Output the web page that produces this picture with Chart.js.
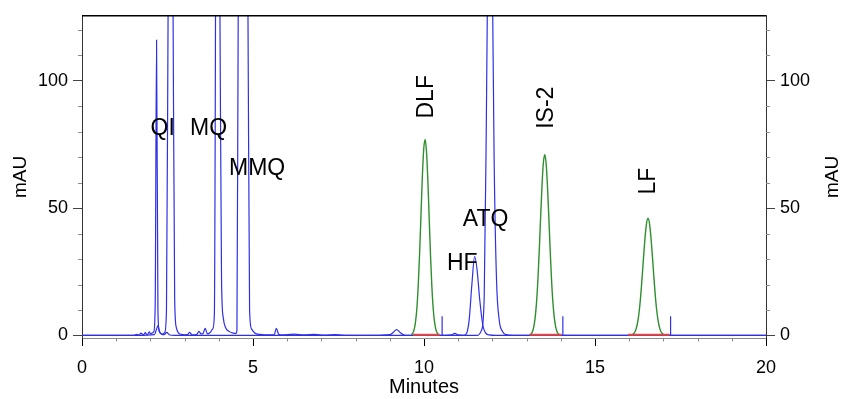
<!DOCTYPE html>
<html>
<head>
<meta charset="utf-8">
<script src="https://cdn.jsdelivr.net/npm/chart.js@4.4.1/dist/chart.umd.min.js"></script>
<style>
  body { margin: 0; background: #fff; }
  #chart { display: block; }
</style>
</head>
<body>
<canvas id="chart" width="844" height="399"></canvas>
<script>
// tick labels
const xTicks = [0, 5, 10, 15, 20];
const yTicks = [0, 50, 100];

// blue trace 1 (QI, 2.6 min peak, MQ, MMQ, small bumps, HF)
const blueTime = [
  0, 1.5, 1.6, 1.67, 1.72, 1.8, 1.85, 1.9, 1.97, 2.0, 2.06, 2.1,
  2.14, 2.18, 2.22, 2.26, 2.3, 2.36,
  2.42, 2.47, 2.52, 2.59, 2.66, 2.71, 2.76, 2.82, 2.9,
  3.0, 3.08, 3.15, 3.22, 3.35, 3.42, 3.48, 3.54, 3.6, 3.67, 3.75,
  3.82, 3.87, 3.95, 4.03, 4.08, 4.13, 4.2, 4.3, 4.42, 4.5,
  4.53, 4.57, 4.71, 4.85, 4.9, 4.96, 5.05, 5.2,
  5.5, 5.62, 5.68, 5.75, 5.85, 6.2, 6.5, 6.8, 7.1, 7.4, 7.8, 8.5,
  9.0, 9.1, 9.2, 9.3, 9.4, 9.55,
  10.6, 10.8, 10.9, 11.0, 11.15,
  11.25, 11.32, 11.4, 11.48, 11.55, 11.63, 11.72, 11.8, 11.9, 12.1, 20
];
const blueValue = [
  0, 0, 0.4, 0.1, 0.9, 0.3, 1.1, 0.2, 1.4, 0.6, 1.0, 1.5,
  12, 116, 10, 1.5, 0.8, 0.5,
  1.2, 10, 135, 300, 135, 14, 3, 1, 0.4,
  0.2, 0.3, 1.2, 0.2, 0.3, 1.6, 0.6, 0.8, 2.8, 0.6, 1.2,
  2.5, 8, 300, 135, 22, 7, 3, 1.6, 0.9, 0.8,
  2, 135, 300, 135, 10, 2.5, 1, 0.4,
  0.2, 0.3, 2.8, 0.5, 0.2, 0.5, 0.2, 0.4, 0.1, 0.3, 0, 0,
  0.3, 1.2, 2.3, 1.2, 0.3, 0,
  0, 0.2, 0.8, 0.2, 0,
  1, 6, 20, 31, 26, 14, 4, 1, 0.2, 0, 0
];

// blue trace 2 (second channel: small hump near QI, ATQ)
const blue2Time = [
  0, 1.6, 2.12, 2.18, 2.22, 2.27, 2.33, 2.4, 2.48, 2.55, 2.7,
  11.55, 11.68, 11.76, 11.82, 11.86, 11.93, 12.0, 12.05, 12.12, 12.2, 12.3, 12.4, 12.6, 20
];
const blue2Value = [
  0, 0, 0.3, 2.5, 3.8, 1.5, 0.5, 0.3, 1.2, 0.3, 0,
  0, 2, 15, 80, 140, 220, 140, 70, 22, 6, 1.5, 0.3, 0, 0
];

// green peaks
const dlfTime = [9.63, 9.67, 9.71, 9.75, 9.79, 9.83, 9.87, 9.91, 9.95, 9.99, 10.03,
  10.07, 10.11, 10.15, 10.19, 10.23, 10.27, 10.31, 10.35, 10.39, 10.43];
const dlfValue = [0.3, 0.9, 2.2, 5.1, 10.4, 19.2, 31.6, 46.7, 61.7, 72.8, 77,
  72.8, 61.7, 46.7, 31.6, 19.2, 10.4, 5.1, 2.2, 0.9, 0.3];

const is2Time = [13.09, 13.13, 13.17, 13.21, 13.25, 13.29, 13.33, 13.37, 13.41, 13.45, 13.49, 13.53,
  13.57, 13.61, 13.65, 13.69, 13.73, 13.77, 13.81, 13.85, 13.89, 13.93, 13.97];
const is2Value = [0.2, 0.6, 1.5, 3.4, 7.0, 12.9, 21.7, 33.3, 46.4, 58.7, 67.7, 71,
  67.7, 58.7, 46.4, 33.3, 21.7, 12.9, 7.0, 3.4, 1.5, 0.6, 0.2];

const lfTime = [16.05, 16.1, 16.15, 16.2, 16.25, 16.3, 16.35, 16.4, 16.45, 16.5, 16.55,
  16.6, 16.65, 16.7, 16.75, 16.8, 16.85, 16.9, 16.95, 17.0, 17.05];
const lfValue = [0.1, 0.4, 1.0, 2.5, 5.4, 10.4, 17.8, 27.0, 36.2, 43.3, 46,
  43.3, 36.2, 27.0, 17.8, 10.4, 5.4, 2.5, 1.0, 0.4, 0.1];

// integration baselines (start, end) and event markers
const baseStart = [9.68, 13.09, 15.97];
const baseEnd = [10.46, 14.02, 17.18];
const baseLevel = 0.3;
const markerTime = [10.53, 14.06, 17.21];
const markerHeight = 7.5;

// peak labels
const peakNames = ['QI', 'MQ', 'MMQ', 'DLF', 'HF', 'ATQ', 'IS-2', 'LF'];
const labelTime = [2.36, 3.70, 5.12, 10.05, 11.12, 11.80, 13.56, 16.54];
const labelLevel = [81.4, 81.4, 66, 93.7, 28.7, 46, 89.4, 60.6];
const labelVertical = [false, false, false, true, false, false, true, true];

const FONT = 'Liberation Sans, Arial, Helvetica, sans-serif';
const BLUE = '#2f2fe8';
const GREEN = '#2e8f2e';
const RED = '#e8453c';

function toPoints(xs, ys) {
  return xs.map((x, i) => ({ x: x, y: ys[i] }));
}

let redPoints = [];
baseStart.forEach((s, i) => {
  redPoints.push({ x: s, y: baseLevel }, { x: baseEnd[i], y: baseLevel }, { x: baseEnd[i], y: null });
});
let markerPoints = [];
markerTime.forEach(t => {
  markerPoints.push({ x: t, y: 0 }, { x: t, y: markerHeight }, { x: t, y: null });
});

const decorations = {
  id: 'decorations',
  afterDraw(chart) {
    const ctx = chart.ctx;
    const area = chart.chartArea;
    const xs = chart.scales.x;
    const ys = chart.scales.y;
    ctx.save();
    // top frame line
    ctx.strokeStyle = '#000';
    ctx.lineWidth = 1.5;
    ctx.beginPath();
    ctx.moveTo(area.left, area.top);
    ctx.lineTo(area.right, area.top);
    ctx.stroke();

    // minor ticks
    ctx.strokeStyle = '#8a8a8a';
    ctx.lineWidth = 1;
    ctx.beginPath();
    for (let v = 1; v < 20; v++) {
      if (v % 5 === 0) continue;
      const px = Math.round(xs.getPixelForValue(v)) + 0.5;
      ctx.moveTo(px, area.bottom);
      ctx.lineTo(px, area.bottom + 3.5);
    }
    for (let v = 10; v <= 120; v += 10) {
      if (v % 50 === 0) continue;
      const py = Math.round(ys.getPixelForValue(v)) + 0.5;
      ctx.moveTo(area.left, py);
      ctx.lineTo(area.left - 4, py);
      ctx.moveTo(area.right, py);
      ctx.lineTo(area.right + 4, py);
    }
    ctx.stroke();

    // right axis title
    ctx.fillStyle = '#000';
    ctx.font = '19px ' + FONT;
    ctx.textAlign = 'center';
    ctx.textBaseline = 'middle';
    ctx.translate(832.5, (area.top + area.bottom) / 2);
    ctx.rotate(-Math.PI / 2);
    ctx.fillText('mAU', 0, 0);
    ctx.restore();

    // peak labels
    ctx.save();
    ctx.fillStyle = '#000';
    ctx.font = '23px ' + FONT;
    ctx.textAlign = 'center';
    ctx.textBaseline = 'middle';
    peakNames.forEach((name, i) => {
      const px = xs.getPixelForValue(labelTime[i]);
      const py = ys.getPixelForValue(labelLevel[i]);
      ctx.save();
      ctx.translate(px, py);
      if (labelVertical[i]) ctx.rotate(-Math.PI / 2);
      ctx.fillText(name, 0, 1);
      ctx.restore();
    });
    ctx.restore();
  }
};

const yCommon = {
  type: 'linear',
  min: -1,
  max: 125.5,
  afterBuildTicks: s => { s.ticks = yTicks.map(v => ({ value: v })); },
  ticks: { font: { family: FONT, size: 18 }, color: '#000', padding: 5 },
  grid: { drawOnChartArea: false, tickLength: 9, tickColor: '#444', tickWidth: 1 },
  border: { color: '#333', width: 1 }
};

new Chart(document.getElementById('chart'), {
  type: 'line',
  data: {
    datasets: [
      { data: toPoints(blueTime, blueValue), borderColor: BLUE, borderWidth: 1.2, cubicInterpolationMode: 'monotone', order: 2 },
      { data: toPoints(blue2Time, blue2Value), borderColor: BLUE, borderWidth: 1.2, cubicInterpolationMode: 'monotone', order: 2 },
      { data: markerPoints, borderColor: BLUE, borderWidth: 1.2, tension: 0, order: 2 },
      { data: toPoints(dlfTime, dlfValue), borderColor: GREEN, borderWidth: 1.4, cubicInterpolationMode: 'monotone', order: 1 },
      { data: toPoints(is2Time, is2Value), borderColor: GREEN, borderWidth: 1.4, cubicInterpolationMode: 'monotone', order: 1 },
      { data: toPoints(lfTime, lfValue), borderColor: GREEN, borderWidth: 1.4, cubicInterpolationMode: 'monotone', order: 1 },
      { data: redPoints, borderColor: RED, borderWidth: 2, tension: 0, order: 0 }
    ]
  },
  options: {
    responsive: false,
    animation: false,
    events: [],
    elements: { point: { radius: 0 } },
    layout: { padding: { top: 13, left: 0, right: 0, bottom: 0 } },
    plugins: { legend: { display: false }, tooltip: { enabled: false } },
    scales: {
      x: {
        type: 'linear',
        min: 0,
        max: 20,
        afterBuildTicks: s => { s.ticks = xTicks.map(v => ({ value: v })); },
        ticks: { font: { family: FONT, size: 18 }, color: '#000', padding: 11, maxRotation: 0, autoSkip: false },
        grid: { drawOnChartArea: false, tickLength: 8, tickColor: '#000' },
        border: { color: '#8a8a8a', width: 1 },
        title: { display: true, text: 'Minutes', font: { family: FONT, size: 20 }, color: '#000', padding: 0 },
        afterFit: s => { s.height = 61; }
      },
      y: Object.assign({}, yCommon, {
        position: 'left',
        title: { display: true, text: 'mAU', font: { family: FONT, size: 19 }, color: '#000', padding: { top: 9, bottom: 0 } },
        afterFit: s => { s.width = 82; }
      }),
      y2: Object.assign({}, yCommon, {
        position: 'right',
        afterFit: s => { s.width = 78; }
      })
    }
  },
  plugins: [decorations]
});
</script>
</body>
</html>
